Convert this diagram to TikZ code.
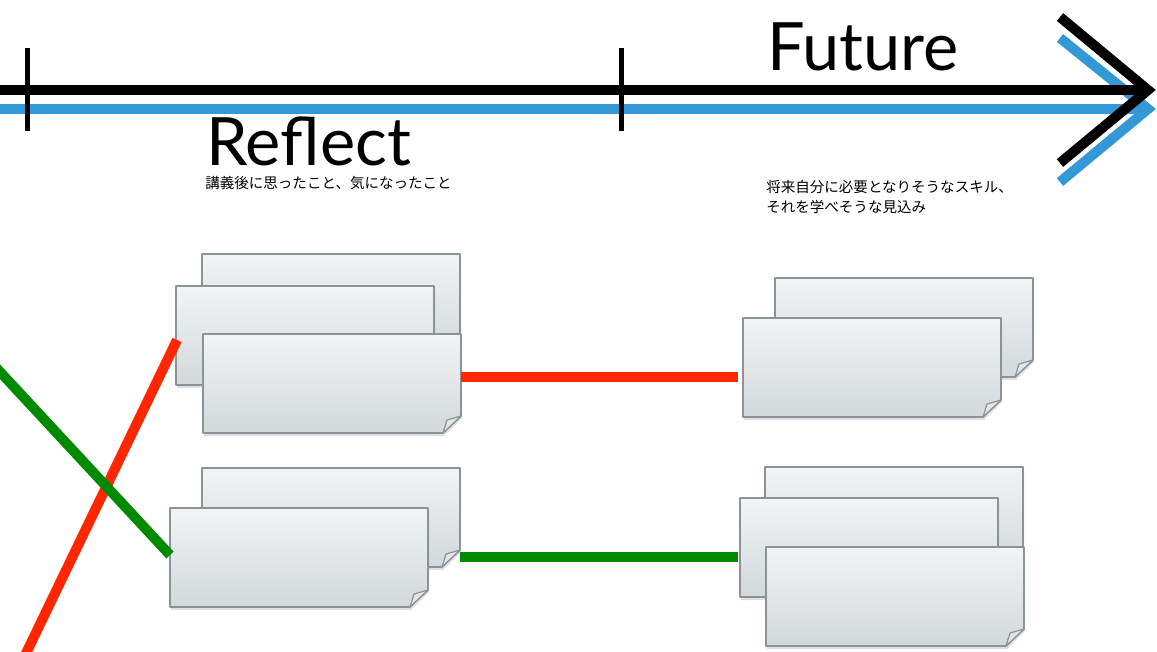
\documentclass[tikz,border=0pt]{standalone}
\usepackage{fontspec}
\newfontfamily\titlefont{Lato}
\newfontfamily\jpfont{Noto Sans CJK JP}
\definecolor{tlblue}{HTML}{3399D6}
\definecolor{linered}{HTML}{FF2600}
\definecolor{linegreen}{HTML}{008A00}
\definecolor{cardtop}{HTML}{F2F4F5}
\definecolor{cardbot}{HTML}{D2D8DB}
\definecolor{cardedge}{HTML}{8A9497}
\definecolor{flapfill}{HTML}{E2E6E8}
\tikzset{
  cardbox/.style={anchor=north west, minimum width=193.5pt, minimum height=74.25pt, inner sep=0pt, outer sep=0pt},
  cardface/.style={top color=cardtop, bottom color=cardbot, draw=cardedge, line width=1.2pt, line join=round},
  cardshadow/.style={fill=black, opacity=0.12},
  flap/.style={fill=flapfill, draw=cardedge, line width=0.9pt, line join=round},
  timeline/.style={line width=7.5pt, line join=miter},
  ticker/.style={line width=3.75pt},
  link/.style={line width=7.5pt},
  title/.style={inner sep=0pt, anchor=base west, text depth=0pt, font=\titlefont\fontsize{50}{58}\selectfont},
  jp/.style={inner sep=0pt, anchor=base west, text height=8pt, text depth=1pt, font=\jpfont\fontsize{10.9}{14}\selectfont},
}
\newcommand\stickynote[3]{%
  \node[cardbox] (#1) at (#2,#3) {};
  \fill[cardshadow] ([shift={(1,3)}]#1.north west) -- ([shift={(1,3)}]#1.north east) -- ([shift={(1,-15)}]#1.south east) -- ([shift={(-17,3)}]#1.south east) -- ([shift={(1,3)}]#1.south west) -- cycle;
  \path[cardface] (#1.north west) -- (#1.north east) -- ([shift={(0,-17)}]#1.south east) -- ([shift={(-18,0)}]#1.south east) -- (#1.south west) -- cycle;
  \path[flap] ([shift={(0,-17)}]#1.south east) -- ([shift={(-14,-13)}]#1.south east) -- ([shift={(-18,0)}]#1.south east) -- cycle;
}
\begin{document}
\begin{tikzpicture}[x=0.75pt,y=-0.75pt]
\useasboundingbox (0,0) rectangle (1157,651);
\clip (0,0) rectangle (1157,651);
% timeline coordinates
\coordinate (bstart) at (-10,90);
\coordinate (btip) at (1148,90);
\coordinate (bup) at (1060,17);
\coordinate (blow) at (1060,163);
\coordinate (cstart) at (-10,109);
\coordinate (ctip) at (1148,109);
\coordinate (cup) at (1060,38);
\coordinate (clow) at (1060,182);
% blue line and chevron
\draw[timeline, tlblue] (cstart) -- (ctip);
\draw[timeline, tlblue] (cup) -- (ctip) -- (clow);
% black line and chevron
\draw[timeline] (bstart) -- (btip);
\draw[timeline] (bup) -- (btip) -- (blow);
% ticks
\draw[ticker] (27,48) -- (27,131);
\draw[ticker] (621,48) -- (621,131);
% titles
\node[title] (reflect) at (206,165) {Reflect};
\node[title] (future) at (767,70) {Future};
\node[jp] (refnote) at (205,188) {講義後に思ったこと、気になったこと};
\node[jp] (futnote1) at (766,192) {将来自分に必要となりそうなスキル、};
\node[jp] (futnote2) at (766,212) {それを学べそうな見込み};
% cards
\stickynote{ra}{202}{254}
\stickynote{rb}{176}{286}
\stickynote{rc}{203}{334}
\stickynote{fa}{775}{278}
\stickynote{fb}{743}{318}
\stickynote{rd}{202}{468}
\stickynote{re}{170}{508}
\stickynote{fc}{765}{467}
\stickynote{fd}{740}{498}
\stickynote{fe}{766}{547}
% links
\coordinate (redend) at (17,672);
\coordinate (greenstart) at (-10,361);
\draw[link, linered] ([shift={(0,-6.5)}]rc.east) -- ([shift={(-5,9.5)}]fb.west);
\draw[link, linered] ([shift={(1,4.5)}]rb.west) -- (redend);
\draw[link, linegreen] ([shift={(0,39.5)}]rd.east) -- ([shift={(-2,9.5)}]fd.west);
\draw[link, linegreen] (greenstart) -- ([shift={(0,-2.5)}]re.west);
\end{tikzpicture}
\end{document}
